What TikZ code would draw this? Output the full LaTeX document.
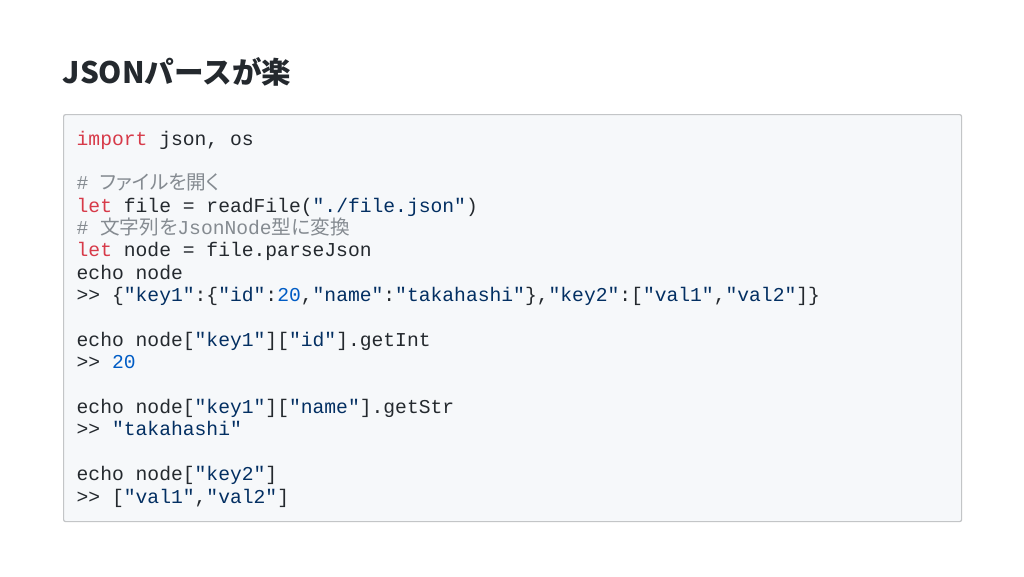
\documentclass[tikz,border=0pt]{standalone}
\usepackage{fontspec}
\newfontfamily\codefont{Liberation Mono}
\newfontfamily\jpfont{Noto Sans CJK JP}
\newfontfamily\jpc{Noto Sans CJK JP}[RawFeature=+palt]
\definecolor{plainc}{HTML}{24292E}
\definecolor{kwc}{HTML}{D73A49}
\definecolor{strc}{HTML}{032F62}
\definecolor{numc}{HTML}{005CC5}
\definecolor{comc}{HTML}{858B91}
\definecolor{boxbg}{HTML}{F6F8FA}
\definecolor{boxline}{HTML}{C3C5C7}
\newcommand\ckw[1]{\textcolor{kwc}{#1}}
\newcommand\cstr[1]{\textcolor{strc}{#1}}
\newcommand\cnum[1]{\textcolor{numc}{#1}}
\newcommand\ccom[1]{\textcolor{comc}{#1}}
\begin{document}
\begin{tikzpicture}[x=1pt,y=-1pt,
  codebox/.style={draw=boxline, fill=boxbg, line width=1.2pt, rounded corners=2pt, inner sep=0pt},
  codeline/.style={anchor=base west, inner sep=0pt, text=plainc, font=\codefont\fontsize{19.66}{22.4}\selectfont},
  titlestyle/.style={anchor=base west, inner sep=0pt, text=plainc, font=\jpfont\bfseries\fontsize{29.6}{32}\selectfont}]
\useasboundingbox[fill=white] (0,0) rectangle (1024,576);
\node[titlestyle] (title) at (62.5,83.5) {JSONパースが楽};
\node[codebox, minimum width=898pt, minimum height=407pt, anchor=north west] (box) at (63,114) {};
\def\lp{22.375}
\node[codeline] (l1) at (76.5,145) {\ckw{import} json, os};
\node[codeline] (l3) at (76.5,145+2*\lp) {\ccom{\# {\jpc ファイルを開く}}};
\node[codeline] (l4) at (76.5,145+3*\lp) {\ckw{let} file = readFile(\cstr{"./file.json"})};
\node[codeline] (l5) at (76.5,145+4*\lp) {\ccom{\# {\jpc 文字列を}JsonNode{\jpc 型に変換}}};
\node[codeline] (l6) at (76.5,145+5*\lp) {\ckw{let} node = file.parseJson};
\node[codeline] (l7) at (76.5,145+6*\lp) {echo node};
\node[codeline] (l8) at (76.5,145+7*\lp) {>> \{\cstr{"key1"}:\{\cstr{"id"}:\cnum{20},\cstr{"name"}:\cstr{"takahashi"}\},\cstr{"key2"}:[\cstr{"val1"},\cstr{"val2"}]\}};
\node[codeline] (l10) at (76.5,145+9*\lp) {echo node[\cstr{"key1"}][\cstr{"id"}].getInt};
\node[codeline] (l11) at (76.5,145+10*\lp) {>> \cnum{20}};
\node[codeline] (l13) at (76.5,145+12*\lp) {echo node[\cstr{"key1"}][\cstr{"name"}].getStr};
\node[codeline] (l14) at (76.5,145+13*\lp) {>> \cstr{"takahashi"}};
\node[codeline] (l16) at (76.5,145+15*\lp) {echo node[\cstr{"key2"}]};
\node[codeline] (l17) at (76.5,145+16*\lp) {>> [\cstr{"val1"},\cstr{"val2"}]};
\end{tikzpicture}
\end{document}
